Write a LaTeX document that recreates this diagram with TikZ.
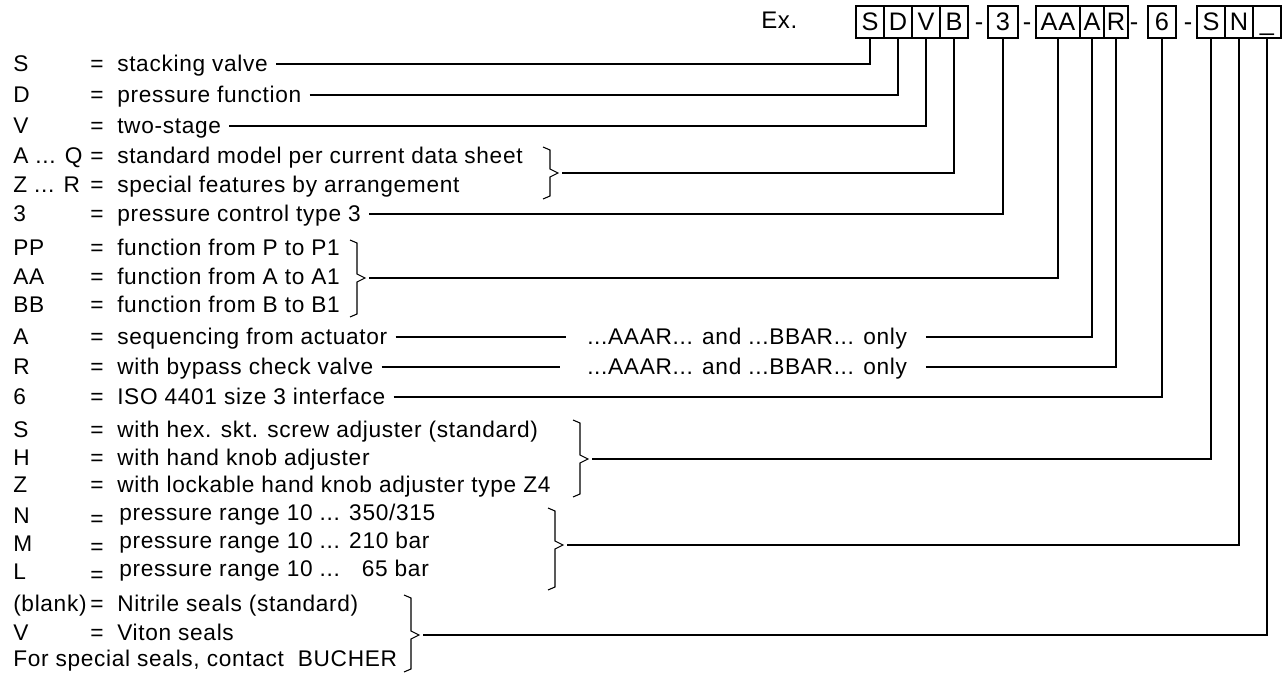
\documentclass[tikz,border=0pt]{standalone}
\usepackage{fontspec}
\setmainfont{Liberation Sans}[LetterSpace=3]
\usetikzlibrary{positioning}

\tikzset{
  lbl/.style={inner sep=0pt, text height=12pt, text depth=0pt, font=\fontsize{17}{20}\selectfont},
  key/.style={lbl, anchor=west},
  big/.style={inner sep=0pt, text height=13.5pt, text depth=0pt, font=\fontsize{19}{22}\selectfont},
  codebox/.style={big, draw, line width=0.8pt, outer sep=0pt, minimum width=21pt, minimum height=24pt},
  wide/.style={minimum width=33pt},
  narrow/.style={minimum width=18pt},
  conn/.style={line width=0.8pt}
}

\begin{document}
\begin{tikzpicture}[x=0.75pt,y=-0.75pt]
	\useasboundingbox (0,0) rectangle (1285,673);
	\newcommand{\brkt}[5]{\draw[conn] (#1-7,#2) -- (#1,#2+3) -- (#1,#4-4) -- (#1+8,#4) coordinate (#5) -- (#1,#4+4) -- (#1,#3-3) -- (#1-7,#3);}
	% type code
	\node[key, font=\fontsize{18}{20}\selectfont] (ex) at (761,21) {Ex.};
	\node[codebox] (bS) at (870,22) {S};
	\node[codebox, right=0pt of bS] (bD) {D};
	\node[codebox, right=0pt of bD] (bV) {V};
	\node[codebox, right=0pt of bV] (bB) {B};
	\node[big] (h1) at (979,22) {-};
	\node[codebox, minimum width=22.5pt] (b3) at (1003,22) {3};
	\node[big] (h2) at (1027,22) {-};
	\node[codebox, wide] (bAA) at (1058,22) {AA};
	\node[codebox, narrow, right=0pt of bAA] (bA) {A};
	\node[codebox, narrow, right=0pt of bA] (bR) {R};
	\node[big] (h3) at (1134,22) {-};
	\node[codebox] (b6) at (1162,22) {6};
	\node[big] (h4) at (1188,22) {-};
	\node[codebox] (bS2) at (1211,22) {S};
	\node[codebox, right=0pt of bS2] (bN) {N};
	\node[codebox, right=0pt of bN] (bU) {\_};
	% legend
	\foreach \yy/\ky/\txt/\nm in {64/S/stacking valve/s, 95/D/pressure function/d, 126/V/two-stage/v,
		156/{A ... Q}/standard model per current data sheet/aq, 185/{Z ... R}/special features by arrangement/zr,
		214/3/pressure control type 3/t, 248/PP/function from P to P1/pp, 277/AA/function from A to A1/aa,
		305/BB/function from B to B1/bb, 337/A/sequencing from actuator/a, 367/R/with bypass check valve/r,
		397/6/ISO 4401 size 3 interface/six, 429/S/with hex. skt. screw adjuster (standard)/hs,
		457/H/with hand knob adjuster/hh, 484/Z/with lockable hand knob adjuster type Z4/hz,
		603/(blank)/Nitrile seals (standard)/nb, 632/V/Viton seals/nv}{
		\node[key] (k\nm) at (13,\yy) {\ky};
		\node[key] (e\nm) at (90,\yy) {=};
		\node[key] (d\nm) at (117,\yy) {\txt};
	}
	\foreach \yy/\ky/\txt/\nm in {515/N/{pressure range 10 ... 350/315}/pn, 543/M/{pressure range 10 ... 210 bar}/pm,
		571/L/{pressure range 10 ... \phantom{2}65 bar}/pl}{
		\node[key] (k\nm) at (13,\yy) {\ky};
		\node[key] (e\nm) at (90,\yy+3) {=};
		\node[key] (d\nm) at (119,\yy-3) {\txt};
	}
	\node[key] (dsp) at (13,658) {For special seals, contact\ \ BUCHER};
	\node[key] (na) at (587,337) {...AAAR... and ...BBAR... only};
	\node[key] (nr) at (587,367) {...AAAR... and ...BBAR... only};
	% brackets
	\brkt{550}{147}{199}{173}{taq}
	\brkt{357}{240}{317}{278}{tpp}
	\brkt{580}{420}{497}{459}{ths}
	\brkt{555}{508}{590}{545}{tpn}
	\brkt{411}{595}{672}{635}{tnb}
	% connectors
	\draw[conn] ([xshift=6pt]ds.east) -| (bS.south);
	\draw[conn] ([xshift=6pt]dd.east) -| (bD.south);
	\draw[conn] ([xshift=6pt]dv.east) -| (bV.south);
	\draw[conn] ([xshift=3pt]taq) -| (bB.south);
	\draw[conn] ([xshift=6pt]dt.east) -| (b3.south);
	\draw[conn] ([xshift=3pt]tpp) -| (bAA.south);
	\draw[conn] ([xshift=6pt]da.east) -- ([xshift=-16pt]na.west);
	\draw[conn] ([xshift=14pt]na.east) -| (bA.south);
	\draw[conn] ([xshift=6pt]dr.east) -- ([xshift=-20pt]nr.west);
	\draw[conn] ([xshift=14pt]nr.east) -| (bR.south);
	\draw[conn] ([xshift=6pt]dsix.east) -| (b6.south);
	\draw[conn] ([xshift=3pt]ths) -| (bS2.south);
	\draw[conn] ([xshift=3pt]tpn) -| (bN.south);
	\draw[conn] ([xshift=3pt]tnb) -| (bU.south);
\end{tikzpicture}
\end{document}
